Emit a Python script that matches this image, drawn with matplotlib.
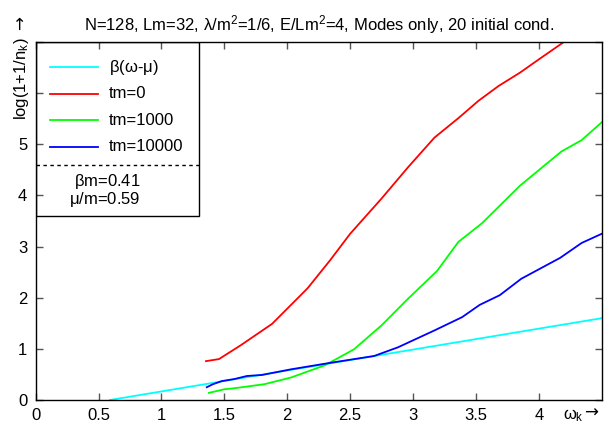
import matplotlib
matplotlib.use("Agg")
import matplotlib.pyplot as plt
from matplotlib.patches import Rectangle

plt.rcParams['font.family'] = ['Liberation Sans', 'DejaVu Sans']
plt.rcParams['mathtext.fontset'] = 'custom'
plt.rcParams['mathtext.rm'] = 'Liberation Sans'
plt.rcParams['mathtext.it'] = 'Liberation Sans'

# fit line beta(omega - mu)
fit_x = [0.59, 4.5]
fit_y = [0.0, 1.60]

# tm=0
t0_x = [1.354, 1.457, 1.63, 1.88, 2.16, 2.34, 2.5, 2.75, 2.96, 3.17, 3.36, 3.52, 3.68, 3.85, 4.0, 4.17, 4.34]
t0_y = [0.76, 0.80, 1.07, 1.49, 2.18, 2.73, 3.25, 3.94, 4.55, 5.13, 5.51, 5.85, 6.14, 6.40, 6.66, 6.95, 7.25]

# tm=1000
t1_x = [1.377, 1.50, 1.58, 1.82, 2.03, 2.30, 2.53, 2.75, 2.96, 3.19, 3.36, 3.55, 3.85, 4.18, 4.34, 4.5]
t1_y = [0.14, 0.21, 0.23, 0.31, 0.44, 0.68, 0.99, 1.46, 1.98, 2.52, 3.09, 3.46, 4.19, 4.86, 5.08, 5.43]

# tm=10000
t2_x = [1.36, 1.41, 1.48, 1.58, 1.68, 1.80, 2.03, 2.35, 2.69, 2.88, 3.17, 3.39, 3.53, 3.69, 3.86, 4.17, 4.34, 4.5]
t2_y = [0.25, 0.31, 0.37, 0.41, 0.47, 0.49, 0.60, 0.73, 0.86, 1.03, 1.36, 1.62, 1.86, 2.05, 2.37, 2.78, 3.07, 3.25]

labels = [r'$\beta$($\omega$-$\mu$)', 'tm=0', 'tm=1000', 'tm=10000']
colors = ['#00ffff', '#ff0000', '#00ff00', '#0000ff']

fs = 12
fig = plt.figure(figsize=(6.13, 4.28), dpi=100)
ax = fig.add_axes([0.0582, 0.0654, 0.9234, 0.8365])

series = [(fit_x, fit_y), (t0_x, t0_y), (t1_x, t1_y), (t2_x, t2_y)]
for (x, y), c in zip(series, colors):
    ax.plot(x, y, color=c, lw=1.3)

ax.set_xlim(0, 4.5)
ax.set_ylim(0, 7)
ax.set_xticks([0, 0.5, 1, 1.5, 2, 2.5, 3, 3.5, 4])
ax.set_xticklabels(['0', '0.5', '1', '1.5', '2', '2.5', '3', '3.5', '4'])
ax.set_yticks([0, 1, 2, 3, 4, 5, 6, 7])
ax.set_yticklabels(['0', '1', '2', '3', '4', '5', '', ''])
ax.tick_params(direction='in', length=5, width=1, color='#555555',
               top=True, right=True, labelsize=fs, pad=6)
for s in ax.spines.values():
    s.set_linewidth(1)

ax.set_title(r'N=128, Lm=32, $\lambda$/m$^2$=1/6, E/Lm$^2$=4, Modes only, 20 initial cond.',
             fontsize=fs, pad=8)
# axis labels with arrows (arrow in DejaVu, which has a full-size glyph)
fig.text(0.0343, 0.913, r'log(1+1/n$_\mathregular{k}$)', rotation=90,
         ha='center', va='top', fontsize=fs)
fig.text(0.0343, 0.962, '→', rotation=90, ha='center', va='top',
         fontsize=fs, family='DejaVu Sans')
fig.text(0.918, 0.03, r'$\omega_\mathregular{k}$', ha='left', va='center', fontsize=fs)
fig.text(0.952, 0.035, '→', ha='left', va='center', fontsize=fs, family='DejaVu Sans')

# legend box
ax.add_patch(Rectangle((0, 0.515), 0.2885, 0.485, transform=ax.transAxes,
                       fill=False, edgecolor='black', lw=1, zorder=5))
ax.plot([0, 0.2885], [0.657, 0.657], transform=ax.transAxes, color='black',
        lw=1, ls=(0, (2.5, 2.5)), zorder=5)
ys = [0.929, 0.856, 0.781, 0.708]
for yy, c, lab in zip(ys, colors, labels):
    ax.plot([0.0253, 0.110], [yy, yy], transform=ax.transAxes, color=c, lw=1.3)
    ax.text(0.1295, yy, lab, transform=ax.transAxes, va='center', ha='left', fontsize=fs)
ax.text(0.126, 0.61, r'$\beta$m=0.41', transform=ax.transAxes, ha='center', va='center', fontsize=fs)
ax.text(0.122, 0.56, r'$\mu$/m=0.59', transform=ax.transAxes, ha='center', va='center', fontsize=fs)

fig.savefig('out.png', dpi=100)
